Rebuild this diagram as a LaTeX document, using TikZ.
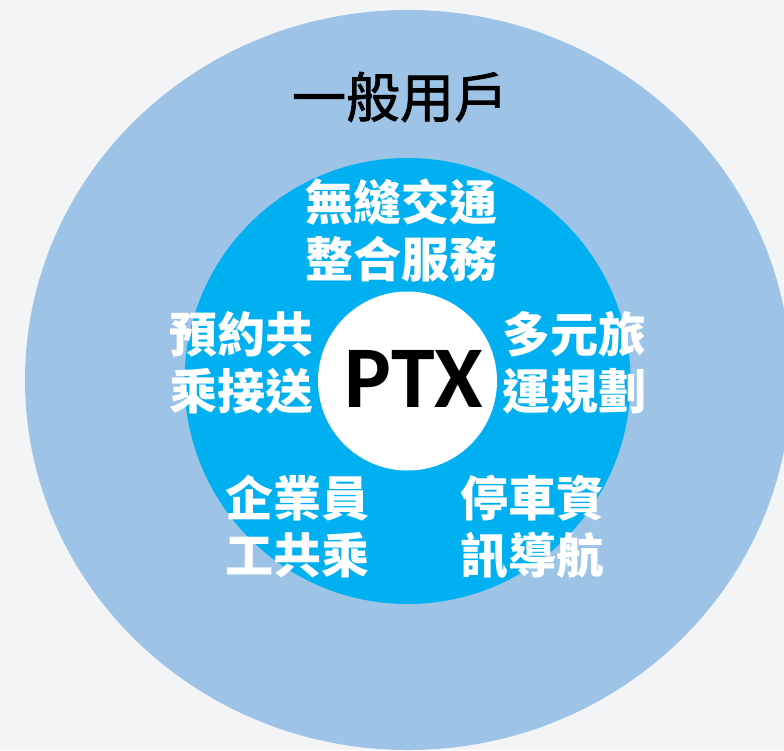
\documentclass[tikz,border=0pt]{standalone}
\usepackage{fontspec}
\setmainfont{Carlito}
\newfontfamily\cjk{Noto Sans CJK TC}
\newfontfamily\cjkmid{Noto Sans CJK TC}[FakeBold=1.5]
\definecolor{pagebg}{HTML}{F2F4F5}
\definecolor{outerblue}{HTML}{9DC3E6}
\definecolor{innerblue}{HTML}{00B0F0}

\begin{document}
\begin{tikzpicture}[x=1pt,y=-1pt]
    \useasboundingbox (0,0) rectangle (784,750);
    \clip (0,0) rectangle (784,750);
    \fill[pagebg] (0,0) rectangle (784,750);
    \begin{scope}
        \fill[outerblue] (408,380) ellipse [x radius=383pt, y radius=370pt];
        \fill[innerblue] (407.5,381) circle [radius=223pt];
        \fill[white] (407.5,381) circle [radius=89.5pt];
    \end{scope}
    \begin{scope}
        \tikzstyle{every node}=[inner sep=0, align=center, text=white, font=\cjk\bfseries\fontsize{48}{57}\selectfont]
        \node (top) at (401.5,230.5) {無縫交通\\整合服務};
        \node (left) at (241,363) {預約共\\乘接送};
        \node (right) at (574,363) {多元旅\\運規劃};
        \node (lowleft) at (297,527) {企業員\\工共乘};
        \node (lowright) at (532,527) {停車資\\訊導航};
    \end{scope}
    \node[inner sep=0, font=\cjkmid\fontsize{54}{60}\selectfont] (user) at (400,97) {一般用戶};
    \node[inner sep=0, font=\bfseries\fontsize{88}{90}\selectfont] (ptx) at (414,378.5) {PTX};
\end{tikzpicture}
\end{document}
